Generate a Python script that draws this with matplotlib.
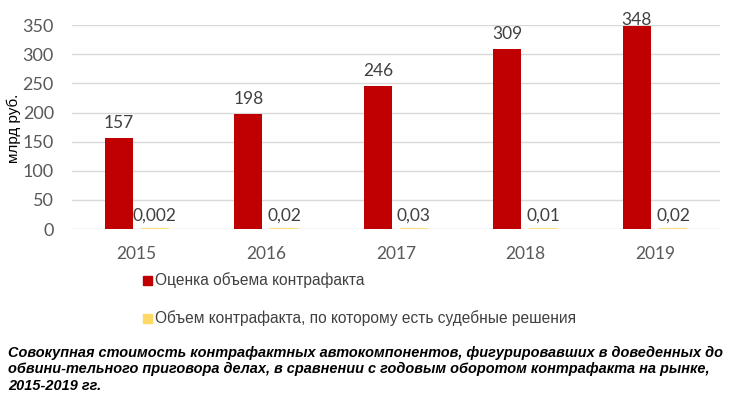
import matplotlib
matplotlib.use("Agg")
import matplotlib.pyplot as plt
import numpy as np
from matplotlib.patches import Rectangle
from matplotlib import font_manager

years = ["2015", "2016", "2017", "2018", "2019"]
estimate = [157, 198, 246, 309, 348]
court = [0.002, 0.02, 0.03, 0.01, 0.02]
estimate_labels = ["157", "198", "246", "309", "348"]
court_labels = ["0,002", "0,02", "0,03", "0,01", "0,02"]
yticks = [0, 50, 100, 150, 200, 250, 300, 350]

series_names = ["Оценка объема контрафакта",
                "Объем контрафакта, по которому есть судебные решения"]
caption = ("Совокупная стоимость контрафактных автокомпонентов, фигурировавших в доведенных до\n"
           "обвини-тельного приговора делах, в сравнении с годовым оборотом контрафакта на рынке,\n"
           "2015-2019 гг.")

names = {f.name for f in font_manager.fontManager.ttflist}
num_font = "Lato" if "Lato" in names else "DejaVu Sans"

red = "#C00000"
yellow = "#FFD966"

fig = plt.figure(figsize=(7.30, 3.99), dpi=100)
ax = fig.add_axes([0.0986, 0.426, 0.8874, 0.511])

x = np.arange(len(years))
w = 0.216
off = 0.139
ax.bar(x - off, estimate, w, color=red, zorder=3)
ax.bar(x + off, court, w, color=yellow, edgecolor=yellow, linewidth=1.2, zorder=3)

ax.set_ylim(0, 350)
ax.set_xlim(-0.5, 4.5)
ax.set_yticks(yticks)
ax.set_xticks(x)
ax.set_xticklabels(years)
ax.grid(axis="y", color="#D9D9D9", linewidth=1, zorder=0)
for s in ax.spines.values():
    s.set_visible(False)
ax.tick_params(axis="y", length=0, labelsize=13, colors="#595959", pad=13)
ax.tick_params(axis="x", length=0, labelsize=12.5, colors="#595959", pad=12)
for lab in ax.get_xticklabels() + ax.get_yticklabels():
    lab.set_fontfamily(num_font)

for xi, v, t in zip(x, estimate, estimate_labels):
    y = min(v + 12, 345)
    ax.text(xi - off, y, t, ha="center", va="bottom", fontsize=12.5,
            color="#404040", family=num_font, zorder=4)
for xi, v, t in zip(x, court, court_labels):
    ax.text(xi + off, v + 9, t, ha="center", va="bottom", fontsize=12.5,
            color="#404040", family=num_font, zorder=4)

fig.text(14 / 730, 1 - 128 / 399, "млрд руб.", family="Liberation Sans",
         fontsize=11, color="black", rotation=90, ha="center", va="center")

# legend
for i, (name, col) in enumerate(zip(series_names, [red, yellow])):
    yy = 1 - (280 + 38 * i) / 399
    fig.patches.append(Rectangle((143 / 730, yy - 4.5 / 399), 9 / 730, 9 / 399,
                                 transform=fig.transFigure, color=col))
    fig.text(155 / 730, yy, name, family="Liberation Sans", fontsize=11.2,
             color="#404040", va="center", ha="left")

fig.text(8 / 730, 1 - 346 / 399, caption, family="Liberation Sans", style="italic",
         weight="bold", fontsize=10.45, color="black", va="top", ha="left",
         linespacing=1.2)

fig.savefig("out.png", dpi=100)
